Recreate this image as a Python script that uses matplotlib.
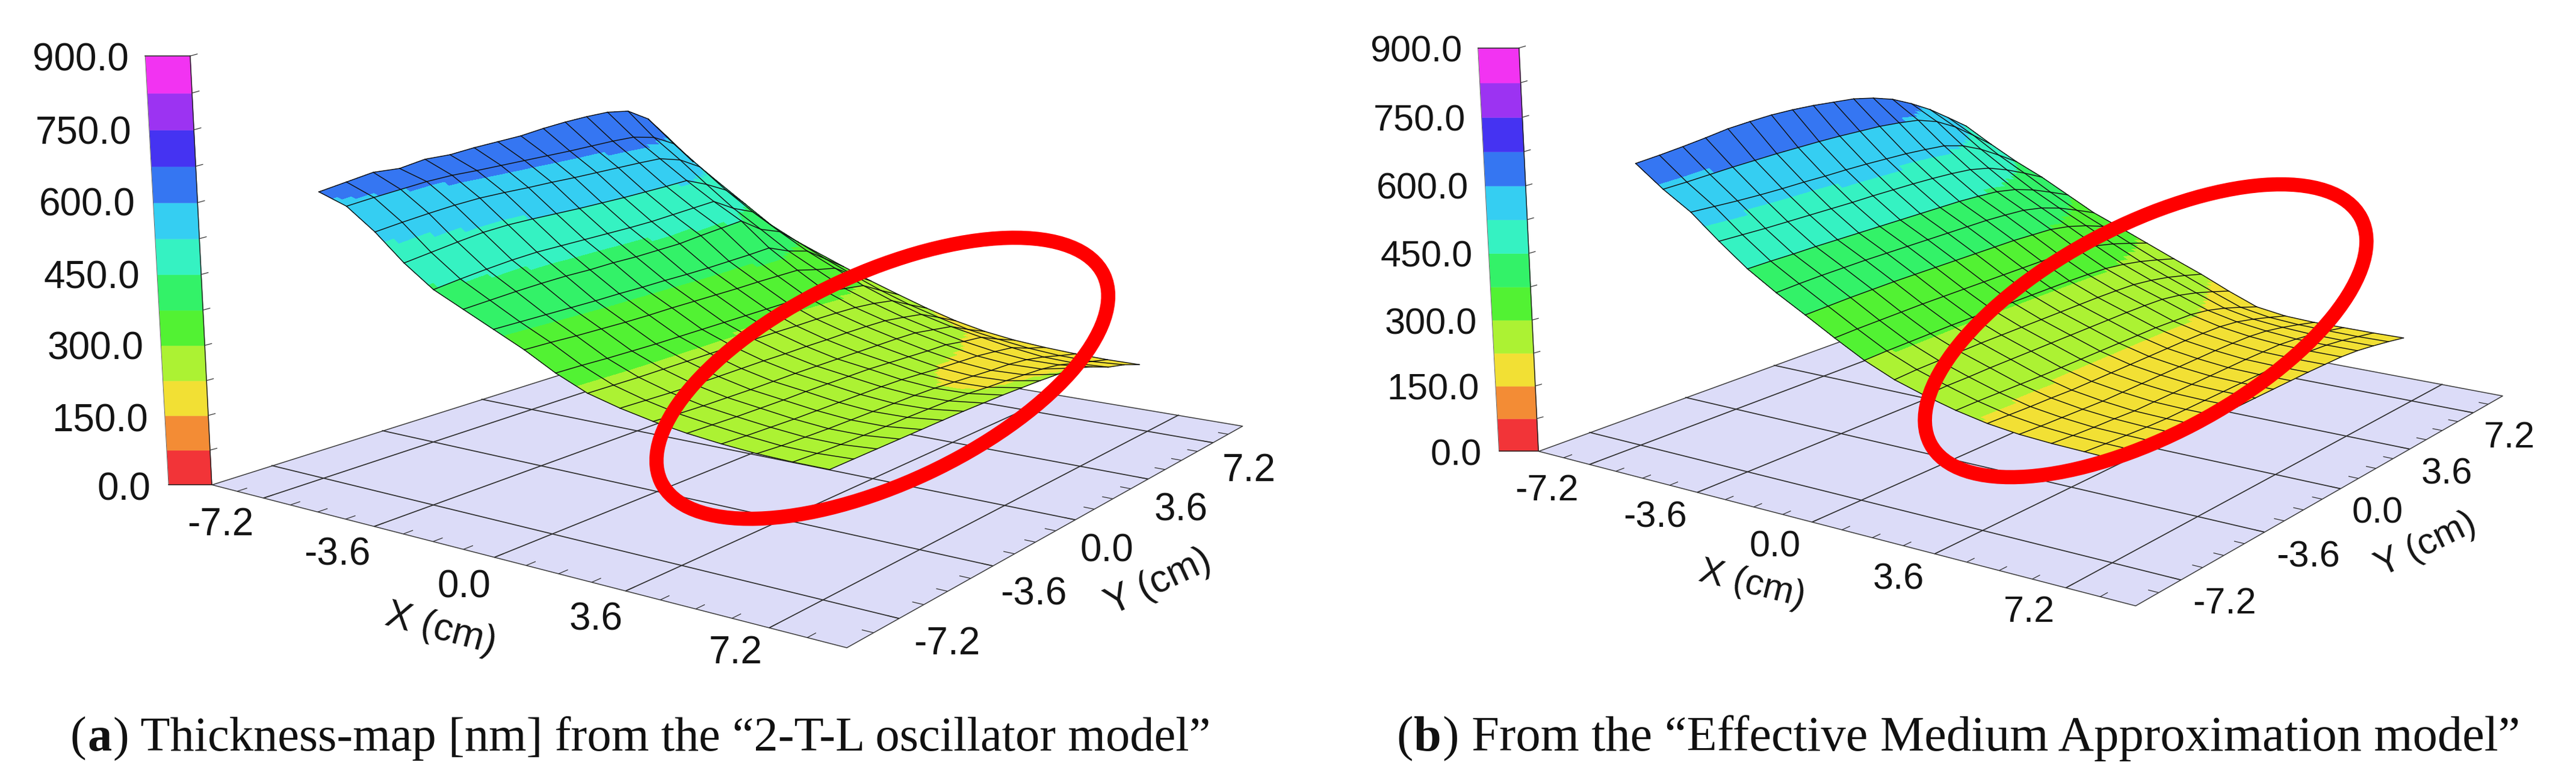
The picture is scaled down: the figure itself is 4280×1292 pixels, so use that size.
import numpy as np
import matplotlib
matplotlib.use("Agg")
import matplotlib.pyplot as plt
from matplotlib.colors import to_rgba
from matplotlib.patches import Ellipse
from mpl_toolkits.mplot3d.art3d import Poly3DCollection

W, H = 4280, 1292
x_grid = [-7.2,-6.3,-5.4,-4.5,-3.6,-2.7,-1.8,-0.9,0.0,0.9,1.8,2.7,3.6,4.5,5.4,6.3,7.2]
y_grid = [-7.0,-6.15,-5.3,-4.45,-3.6,-2.75,-1.9,-1.05,-0.2,0.65,1.5,2.35,3.2,4.05,4.9,5.75,6.6]
band_colors = ['#f23438','#f38c35','#f2e034','#acf233','#52f233','#33f268',
               '#35f2c2','#35cef2','#3576f2','#4533f2','#9c33f2','#f233f2']
floor_ticks = [-7.2,-3.6,0.0,3.6,7.2]
z_labels = ['0.0','150.0','300.0','450.0','600.0','750.0','900.0']
tick_labels = ['-7.2','-3.6','0.0','3.6','7.2']

thick_a = [
[612,590,545,490,445,415,385,355,320,292,275,262,252,245,240,238,238],
[622,597,553,499,453,419,385,354,319,291,273,259,250,242,236,235,238],
[632,603,560,508,460,423,385,352,317,290,271,257,248,240,234,233,238],
[630,609,566,516,466,426,385,351,316,290,270,256,247,238,232,232,238],
[640,612,570,520,470,428,385,350,315,290,270,255,246,237,231,231,238],
[640,612,571,521,471,428,386,350,315,290,270,255,246,236,230,231,238],
[646,613,571,521,472,430,386,351,315,290,270,255,245,235,229,230,238],
[650,614,572,521,473,430,387,351,315,289,269,254,244,234,228,229,237],
[654,615,572,522,474,432,387,351,315,289,269,253,243,232,226,227,236],
[662,616,573,523,476,434,388,351,315,288,268,252,240,228,222,223,234],
[668,618,574,525,480,440,390,352,315,288,268,251,237,224,218,220,232],
[672,620,575,527,484,445,392,352,314,287,267,250,234,221,214,216,229],
[674,620,575,530,488,450,395,352,312,285,265,248,232,218,211,212,226],
[668,610,562,510,460,418,375,340,305,280,258,240,224,212,205,205,212],
[640,585,535,485,440,400,362,330,298,272,250,232,218,205,195,192,195],
[585,530,485,440,395,362,330,300,272,248,228,210,198,188,182,180,184],
[515,470,425,385,350,325,298,272,248,225,205,190,180,174,170,168,168]]

thick_b = [
[637,590,550,497,448,408,372,335,300,272,252,235,222,214,210,208,206],
[642,592,548,496,449,411,374,337,302,275,254,235,220,211,206,204,203],
[648,595,546,495,449,413,376,338,303,276,254,234,218,209,203,201,200],
[655,598,545,495,450,414,377,339,304,277,255,233,217,207,201,198,198],
[663,600,545,495,450,415,378,340,305,278,255,232,215,205,198,196,196],
[667,602,546,495,450,415,378,340,305,278,255,232,215,205,198,196,196],
[670,603,546,495,450,415,378,340,305,278,255,232,215,205,198,196,196],
[670,604,547,496,450,415,378,340,305,278,255,232,215,205,198,196,196],
[668,604,547,496,450,415,378,340,305,278,255,232,215,205,198,196,196],
[664,603,546,496,450,415,378,340,305,278,255,232,215,205,198,196,196],
[660,602,545,495,450,415,378,340,305,278,255,232,215,205,198,196,196],
[650,598,542,493,448,413,376,338,304,277,254,230,214,204,197,195,195],
[635,592,538,489,445,410,374,336,302,275,252,228,212,202,196,194,194],
[612,576,525,479,436,401,366,330,296,269,245,221,206,197,191,190,190],
[585,550,503,461,421,386,353,319,287,260,234,209,195,188,184,183,183],
[552,516,475,439,401,366,336,305,275,248,220,194,182,177,175,174,175],
[518,480,445,415,380,345,318,290,262,235,205,178,168,165,165,165,166]]

plt.rcParams['font.family'] = ['Liberation Sans', 'DejaVu Sans']
fig = plt.figure(figsize=(W/100, H/100), dpi=100, facecolor='white')

def panel(cam, rect, zz, bar_t):
    elev, azim, f, by, bz = cam
    ax = fig.add_axes([rect[0]/W, rect[1]/H, rect[2]/W, rect[2]/H], projection='3d')
    ax.computed_zorder = False
    ax.patch.set_alpha(0)
    ax.set_axis_off()
    ax.autoscale(False)
    ax.set_xlim(-9,9); ax.set_ylim(-9,9); ax.set_zlim(0,900)
    ax.view_init(elev, azim, 0)
    ax.set_proj_type('persp', focal_length=f)
    ax.set_box_aspect((1,by,bz))
    lo, hi = -9, 9
    line = dict(color='#2e2e2e', lw=1.25, clip_on=False)
    floor = Poly3DCollection([[(lo,lo,0),(hi,lo,0),(hi,hi,0),(lo,hi,0)]], facecolor='#dcdcf8', edgecolor='#3a3a3a', linewidth=1.1, zorder=1)
    ax.add_collection3d(floor); floor.set_clip_on(False)
    for v in floor_ticks:
        ax.plot([v,v],[lo,hi],[0,0],zorder=2,**line)
        ax.plot([lo,hi],[v,v],[0,0],zorder=2,**line)
    for v in np.arange(-8.1,8.2,.9):
        ax.plot([v,v],[lo,lo+.27],[0,0],zorder=2,color='#2e2e2e',lw=.9,clip_on=False)
        ax.plot([hi,hi-.25],[v,v],[0,0],zorder=2,color='#2e2e2e',lw=.9,clip_on=False)
    X, Y = np.array(x_grid), np.array(y_grid)
    Z = np.array(zz, float)
    n = 6
    fx = np.linspace(0,16,16*n+1)
    Zf = np.array([np.interp(fx, np.arange(17), row) for row in Z])
    Zf = np.array([np.interp(fx, np.arange(17), col) for col in Zf.T]).T
    Xf, Yf = np.meshgrid(np.interp(fx,np.arange(17),X), np.interp(fx,np.arange(17),Y))
    cmid = .25*(Zf[:-1,:-1]+Zf[1:,:-1]+Zf[:-1,1:]+Zf[1:,1:])
    cmid = np.pad(cmid,((0,1),(0,1)),mode='edge')
    idx = np.clip((cmid//75).astype(int),0,11)
    rgba = np.array([to_rgba(c) for c in band_colors])[idx]
    surf = ax.plot_surface(Xf,Yf,Zf,facecolors=rgba,rstride=1,cstride=1,shade=False,linewidth=0,antialiased=False,zorder=3)
    surf.set_clip_on(False)
    XX, YY = np.meshgrid(X, Y)
    v = ax.get_proj() @ np.vstack([XX.ravel(),YY.ravel(),Z.ravel(),np.ones(XX.size)])
    px = (v[0]/v[3]).reshape(Z.shape); py = (v[1]/v[3]).reshape(Z.shape)
    area = ((px[1:,1:]-px[:-1,:-1])*(py[1:,:-1]-py[:-1,1:])-(py[1:,1:]-py[:-1,:-1])*(px[1:,:-1]-px[:-1,1:]))
    front = np.sign(area) == np.sign(area[8,8])
    for j in range(17):
        for i in range(16):
            if (j<16 and front[j,i]) or (j>0 and front[j-1,i]):
                ax.plot(X[i:i+2],[Y[j]]*2,Z[j,i:i+2],color='#101010',lw=1.05,zorder=4,clip_on=False)
            if (j<16 and front[i,j]) or (j>0 and front[i,j-1]):
                ax.plot([X[j]]*2,Y[i:i+2],Z[i:i+2,j],color='#101010',lw=1.05,zorder=4,clip_on=False)
    az = np.radians(azim)
    ex, ey = np.sin(az)*bar_t, -np.cos(az)*bar_t/by
    for i,c in enumerate(band_colors):
        q = [(lo,lo,75*i),(lo+ex,lo+ey,75*i),(lo+ex,lo+ey,75*i+75),(lo,lo,75*i+75)]
        pc = Poly3DCollection([q],facecolor=c,edgecolor=c,linewidth=.3,zorder=5)
        ax.add_collection3d(pc); pc.set_clip_on(False)
    ax.plot([lo,lo],[lo,lo],[0,900],zorder=6,color='#222222',lw=1.1,clip_on=False)
    ax.plot([lo+ex,lo+ex],[lo+ey,lo+ey],[0,900],zorder=6,color='#666666',lw=.7,clip_on=False)
    ax.plot([lo+ex,lo],[lo+ey,lo],[900,900],zorder=6,color='#222222',lw=1.1,clip_on=False)
    ax.plot([lo+ex,lo],[lo+ey,lo],[0,0],zorder=6,color='#222222',lw=1.1,clip_on=False)
    for i in range(1,13):
        ax.plot([lo,lo-ex*.16],[lo,lo-ey*.16],[75*i,75*i+4],zorder=6,color='#333333',lw=.9,clip_on=False)
    return ax

def put(x,y,s,**k):
    k.setdefault('color','#141414')
    return fig.text(x/W,1-y/H,s,ha=k.pop('ha','center'),va=k.pop('va','center'),**k)

def caption(x0,y,letter,rest,size):
    r = fig.canvas.get_renderer()
    fam = ['Liberation Serif','DejaVu Serif']
    x = x0
    for s,wt in (('(','normal'),(letter,'bold'),(rest,'normal')):
        t = fig.text(x/W,1-y/H,s,family=fam,size=size,weight=wt,color='#111111',ha='left',va='baseline')
        x = t.get_window_extent(r).x1 + 2

panel((11.336,-54.662,0.364,1.057,0.569),(297.176,-78.685,1849.893),thick_a,1.03)
panel((13.888,-55.003,0.462,1.016,0.575),(2492.691,17.434,1734.46),thick_b,1.0)

fs = 46
for s,x,y in zip(z_labels,[250,246,239,232,225,218,214],[814,700,581,463,342,222,101]):
    put(x,y,s,ha='right',size=fs)
for s,x,y in zip(tick_labels,[366,560,771,990,1222],[873,923,976,1030,1086]):
    put(x,y,s,size=fs)
for s,x,y in zip(tick_labels,[1573,1717,1839,1962,2075],[1071,989,916,849,783]):
    put(x,y,s,size=fs)
put(733,1046,'X (cm)',size=fs,rotation=-15)
put(1925,968,'Y (cm)',size=fs,rotation=25)
fs2 = 44
for s,x,y in zip(z_labels,[2462,2458,2454,2447,2440,2435,2429],[758,649,540,428,315,202,87]):
    put(x,y,s,ha='right',size=fs2)
for s,x,y in zip(tick_labels,[2570,2750,2949,3154,3371],[816,861,910,964,1019]):
    put(x,y,s,size=fs2)
for s,x,y in zip(tick_labels,[3696,3835,3950,4065,4170],[1005,927,854,789,729]):
    put(x,y,s,size=fs2)
put(2911,972,'X (cm)',size=fs2,rotation=-14)
put(4031,906,'Y (cm)',size=fs2,rotation=26)

for xy,a,b,ang in (((1466,629),406,175,25),((3565,550),404,175,27.7)):
    fig.add_artist(Ellipse((xy[0],H-xy[1]),2*a,2*b,angle=ang,fill=False,edgecolor='#ff0000',linewidth=17,transform=None,zorder=20))

caption(117,1248,'a',') Thickness-map [nm] from the “2-T-L oscillator model”',58)
caption(2320,1248,'b',') From the “Effective Medium Approximation model”',59.4)

fig.savefig('out.png',dpi=100)
